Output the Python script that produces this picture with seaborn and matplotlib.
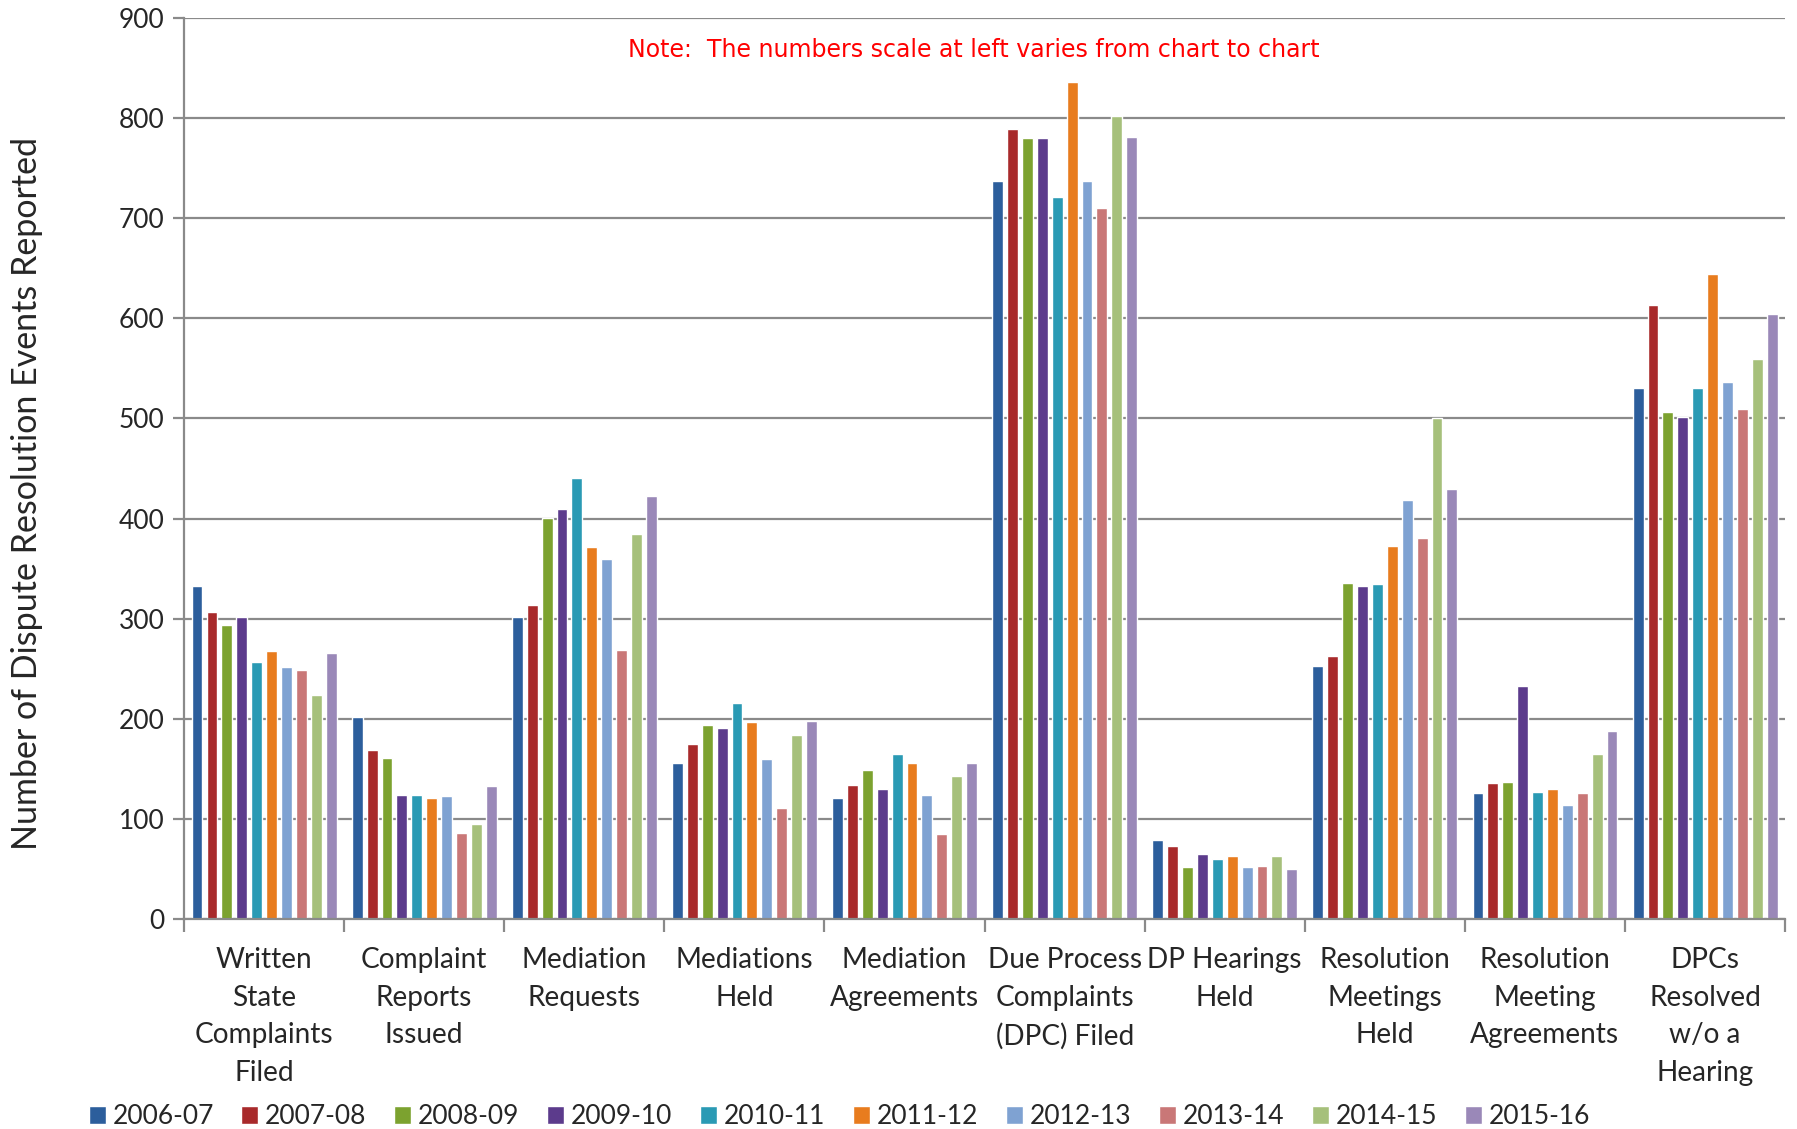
import matplotlib
import matplotlib.pyplot as plt
import seaborn as sns
import pandas as pd
import numpy as np
matplotlib.use('Agg')

sns.set_style("white")
plt.rcParams['font.family'] = ['Lato', 'DejaVu Sans']

categories = ['Written\nState\nComplaints\nFiled',
			'Complaint\nReports\nIssued',
			'Mediation\nRequests',
			'Mediations\nHeld',
			'Mediation\nAgreements',
			'Due Process\nComplaints\n(DPC) Filed',
			'DP Hearings\nHeld',
			'Resolution\nMeetings\nHeld',
			'Resolution\nMeeting\nAgreements',
			'DPCs\nResolved\nw/o a\nHearing']

years = ['2006-07', '2007-08', '2008-09', '2009-10', '2010-11',
		'2011-12', '2012-13', '2013-14', '2014-15', '2015-16']

# one list per category, values in year order
written_complaints = [333, 307, 294, 302, 257, 268, 252, 249, 224, 266]
complaint_reports = [202, 169, 161, 124, 124, 121, 123, 86, 95, 133]
mediation_requests = [302, 314, 401, 410, 441, 372, 360, 269, 385, 423]
mediations_held = [156, 175, 194, 191, 216, 197, 160, 111, 184, 198]
mediation_agreements = [121, 134, 149, 130, 165, 156, 124, 85, 143, 156]
dpc_filed = [737, 789, 780, 780, 721, 836, 737, 710, 802, 781]
dp_hearings = [79, 73, 52, 65, 60, 63, 52, 53, 63, 50]
resolution_meetings = [253, 263, 336, 333, 335, 373, 419, 381, 500, 430]
resolution_agreements = [126, 136, 137, 233, 127, 130, 114, 126, 165, 188]
dpc_resolved = [530, 613, 506, 501, 530, 644, 536, 509, 559, 604]

palette = ['#2c5e9c', '#a82a2b', '#7ca22f', '#5c3b8c', '#2a9ab4',
		'#e87c1e', '#7fa2d2', '#c97777', '#a6c07b', '#9a88b8']

def build_frame():
	series = [written_complaints, complaint_reports, mediation_requests, mediations_held,
			mediation_agreements, dpc_filed, dp_hearings, resolution_meetings,
			resolution_agreements, dpc_resolved]
	rows = []
	for cat, vals in zip(categories, series):
		for yr, v in zip(years, vals):
			rows.append({'Category': cat, 'Year': yr, 'Events': v})
	return pd.DataFrame(rows)

def main():
	data = build_frame()
	fig = plt.figure(figsize=(17.97, 11.29), dpi=100)
	ax = fig.add_axes([0.1024, 0.186, 0.891, 0.798])
	sns.barplot(data=data, x='Category', y='Events', hue='Year', order=categories,
				hue_order=years, palette=palette, width=0.93, gap=0.27,
				saturation=1, ax=ax, legend=False)
	ax.set_xlim(-0.5, 9.5)
	ax.set_ylim(0, 900)
	ax.set_yticks(np.arange(0, 901, 100))
	ax.yaxis.grid(True, color='#8a8a8a', linewidth=1.6)
	ax.set_axisbelow(True)
	for s in ['top', 'right']:
		ax.spines[s].set_visible(False)
	for s in ['left', 'bottom']:
		ax.spines[s].set_color('#8a8a8a')
		ax.spines[s].set_linewidth(1.6)
	ax.tick_params(axis='y', which='major', length=8, width=1.6, color='#8a8a8a',
				labelsize=19, pad=6, direction='out', left=True)
	ax.set_xticks(np.arange(-0.5, 10, 1), minor=True)
	ax.tick_params(axis='x', which='minor', length=9, width=1.6, color='#8a8a8a',
				direction='out', bottom=True)
	ax.tick_params(axis='x', which='major', length=0, labelsize=20.2, pad=20)
	for lbl in ax.get_xticklabels():
		lbl.set_linespacing(1.56)
	ax.set_xlabel('')
	ax.set_ylabel('Number of Dispute Resolution Events Reported', fontsize=24.5)
	ax.yaxis.set_label_coords(-0.088, 0.472)
	ax.text(0.4935, 0.965, 'Note:  The numbers scale at left varies from chart to chart',
			transform=ax.transAxes, ha='center', va='center', color='red',
			fontsize=17, family=['DejaVu Sans'])
	handles = [plt.Rectangle((0, 0), 1, 1, facecolor=c) for c in palette]
	fig.legend(handles, years, loc='center', bbox_to_anchor=(0.467, 0.011), ncol=10,
			frameon=False, fontsize=19, handlelength=0.65, handleheight=0.65,
			handletextpad=0.25, columnspacing=1.05)
	plt.savefig('out.png', dpi=100)
	plt.close()

if __name__ == '__main__':
	main()
